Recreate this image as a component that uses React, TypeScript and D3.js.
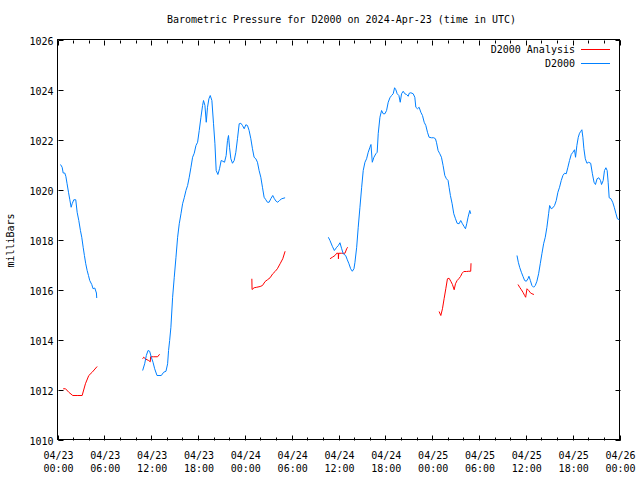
import React from "react";
import * as d3 from "d3";

const TITLE = "Barometric Pressure for D2000 on 2024-Apr-23 (time in UTC)";
const Y_LABEL = "milliBars";
const SERIES_NAMES = ["D2000 Analysis", "D2000"];
const SERIES_COLORS = ["#ff0000", "#0080ff"];
const Y_TICKS = [1010, 1012, 1014, 1016, 1018, 1020, 1022, 1024, 1026];
const START_UTC = Date.UTC(2024, 3, 23, 0, 0);
const SPAN_HOURS = 72;

// [hours since 2024-04-23 00:00 UTC, mb]
const analysisSeg1: [number, number][] = [[0.6,1012.07],[0.9,1012.07],[1.32,1011.93],[1.83,1011.8],[2.39,1011.8],[3.03,1011.8],[3.45,1012.27],[3.88,1012.6],[4.31,1012.73],[4.95,1012.96]];
const analysisSeg2: [number, number][] = [[10.78,1013.27],[10.91,1013.33],[11.21,1013.25],[11.55,1013.2],[11.76,1013.15],[11.8,1013.35],[12.2,1013.35],[12.7,1013.35],[12.95,1013.45]];
const analysisSeg3: [number, number][] = [[24.77,1016.47],[24.8,1016.04],[25.06,1016.11],[25.4,1016.13],[25.83,1016.16],[26.13,1016.2],[26.47,1016.36],[26.77,1016.43],[27.11,1016.51],[27.45,1016.67],[27.75,1016.76],[28.04,1016.87],[28.39,1017.07],[28.73,1017.27],[29.03,1017.57]];
const analysisSeg4: [number, number][] = [[34.78,1017.27],[35.08,1017.33],[35.42,1017.4],[35.64,1017.49],[35.85,1017.49],[35.86,1017.27],[35.9,1017.49],[36.28,1017.49],[36.7,1017.49],[36.92,1017.67],[37.04,1017.73]];
const analysisSeg5: [number, number][] = [[48.76,1015.16],[48.98,1015.0],[49.19,1015.27],[49.4,1015.67],[49.62,1016.07],[49.83,1016.47],[50.04,1016.49],[50.26,1016.37],[50.47,1016.24],[50.69,1016.03],[50.86,1016.27],[51.07,1016.4],[51.28,1016.47],[51.5,1016.56],[51.71,1016.69],[51.92,1016.76],[52.26,1016.76],[52.56,1016.77],[52.81,1016.77],[52.85,1017.09]];
const analysisSeg6: [number, number][] = [[58.87,1016.24],[59.08,1016.13],[59.3,1016.03],[59.5,1015.93],[59.72,1015.8],[59.85,1015.73],[60.02,1016.07],[60.24,1016.0],[60.45,1015.91],[60.65,1015.87],[60.91,1015.84]];

const obsSeg1: [number, number][] = [[0.26,1021.04],[0.47,1020.93],[0.6,1020.7],[0.8,1020.7],[0.94,1020.57],[1.1,1020.27],[1.28,1019.93],[1.45,1019.63],[1.62,1019.33],[1.75,1019.47],[1.96,1019.63],[2.21,1019.63],[2.39,1019.13],[2.6,1018.8],[2.81,1018.4],[2.98,1018.13],[3.16,1017.73],[3.32,1017.4],[3.49,1017.07],[3.67,1016.8],[3.84,1016.6],[4.0,1016.4],[4.26,1016.24],[4.43,1016.07],[4.65,1016.1],[4.86,1015.9],[4.9,1015.7]];
const obsSeg2: [number, number][] = [[10.78,1012.8],[11.04,1013.07],[11.25,1013.4],[11.47,1013.6],[11.68,1013.57],[11.89,1013.33],[12.11,1013.13],[12.32,1012.87],[12.62,1012.6],[13.17,1012.6],[13.47,1012.73],[13.77,1012.77],[13.98,1013.07],[14.1,1013.6],[14.24,1014.0],[14.4,1014.53],[14.62,1015.73],[14.83,1016.53],[15.05,1017.33],[15.26,1018.13],[15.47,1018.67],[15.69,1019.07],[15.9,1019.47],[16.11,1019.71],[16.33,1020.0],[16.54,1020.2],[16.75,1020.53],[16.97,1020.93],[17.18,1021.33],[17.39,1021.49],[17.61,1021.8],[17.82,1021.93],[18.03,1022.4],[18.25,1022.93],[18.46,1023.4],[18.58,1023.6],[18.76,1023.4],[18.93,1022.73],[19.09,1023.33],[19.27,1023.67],[19.44,1023.8],[19.65,1023.6],[19.86,1022.67],[20.04,1021.87],[20.2,1020.8],[20.42,1020.64],[20.63,1020.87],[20.84,1021.2],[21.06,1021.17],[21.27,1021.13],[21.48,1021.4],[21.65,1022.0],[21.78,1022.2],[21.91,1021.73],[22.08,1021.27],[22.29,1021.09],[22.51,1021.2],[22.72,1021.53],[22.93,1022.07],[23.15,1022.67],[23.36,1022.69],[23.57,1022.6],[23.79,1022.47],[24.0,1022.63],[24.21,1022.6],[24.42,1022.4],[24.64,1022.07],[24.85,1021.67],[25.06,1021.33],[25.28,1021.27],[25.49,1021.13],[25.7,1020.8],[25.92,1020.53],[26.13,1020.13],[26.34,1019.73],[26.56,1019.63],[26.77,1019.53],[26.98,1019.53],[27.2,1019.67],[27.45,1019.8],[27.66,1019.67],[27.88,1019.57],[28.09,1019.53],[28.3,1019.6],[28.6,1019.67],[29.03,1019.71]];
const obsSeg3: [number, number][] = [[34.57,1018.13],[34.78,1018.0],[35.08,1017.77],[35.34,1017.6],[35.64,1017.73],[35.85,1017.8],[36.06,1017.91],[36.28,1017.67],[36.48,1017.47],[36.79,1017.4],[37.0,1017.23],[37.21,1017.07],[37.43,1016.87],[37.64,1016.77],[37.85,1016.87],[37.98,1017.13],[38.2,1017.73],[38.4,1018.53],[38.62,1019.33],[38.84,1020.13],[39.04,1020.8],[39.26,1021.13],[39.47,1021.27],[39.68,1021.53],[39.9,1021.73],[40.03,1021.84],[40.2,1021.13],[40.41,1021.33],[40.66,1021.47],[40.83,1021.53],[40.96,1022.27],[41.18,1022.93],[41.39,1023.2],[41.6,1023.07],[41.82,1023.07],[42.03,1023.2],[42.24,1023.53],[42.46,1023.71],[42.67,1023.8],[42.88,1023.87],[43.06,1024.11],[43.22,1024.03],[43.39,1023.87],[43.61,1023.8],[43.78,1023.53],[43.95,1023.87],[44.16,1023.97],[44.37,1023.87],[44.59,1023.84],[44.8,1023.77],[44.93,1023.89],[45.14,1023.91],[45.44,1023.87],[45.65,1023.73],[45.78,1023.33],[45.99,1023.27],[46.2,1023.33],[46.42,1023.13],[46.63,1023.0],[46.85,1022.73],[47.06,1022.6],[47.27,1022.33],[47.48,1022.13],[47.78,1022.11],[48.08,1022.11],[48.29,1022.07],[48.42,1021.93],[48.63,1021.6],[48.85,1021.47],[49.06,1021.33],[49.27,1021.0],[49.49,1020.6],[49.7,1020.47],[49.91,1020.4],[50.04,1020.13],[50.21,1019.8],[50.43,1019.47],[50.64,1019.07],[50.86,1018.87],[51.07,1018.69],[51.32,1018.67],[51.53,1018.8],[51.75,1018.67],[51.96,1018.56],[52.14,1018.47],[52.3,1018.67],[52.47,1018.93],[52.69,1019.2],[52.81,1019.07]];
const obsSeg4: [number, number][] = [[58.74,1017.4],[58.91,1017.13],[59.08,1016.93],[59.3,1016.73],[59.5,1016.57],[59.72,1016.4],[59.93,1016.37],[60.14,1016.47],[60.27,1016.57],[60.45,1016.4],[60.65,1016.2],[60.87,1016.13],[61.08,1016.2],[61.29,1016.37],[61.51,1016.67],[61.72,1017.07],[61.93,1017.47],[62.15,1017.87],[62.36,1018.13],[62.57,1018.53],[62.79,1019.07],[62.92,1019.4],[63.13,1019.27],[63.34,1019.31],[63.55,1019.4],[63.77,1019.6],[63.98,1019.93],[64.19,1020.13],[64.41,1020.4],[64.62,1020.6],[64.83,1020.69],[65.05,1020.67],[65.26,1020.93],[65.47,1021.2],[65.69,1021.44],[65.9,1021.53],[66.11,1021.63],[66.24,1021.33],[66.41,1021.8],[66.59,1022.13],[66.75,1022.29],[66.92,1022.37],[67.05,1022.43],[67.18,1022.13],[67.31,1021.67],[67.49,1021.27],[67.7,1021.09],[67.92,1021.13],[68.18,1021.09],[68.4,1020.67],[68.61,1020.33],[68.79,1020.24],[69.0,1020.47],[69.22,1020.51],[69.44,1020.4],[69.57,1020.24],[69.78,1020.4],[69.95,1020.8],[70.13,1020.91],[70.29,1020.8],[70.42,1020.33],[70.55,1019.71],[70.78,1019.67],[71.0,1019.53],[71.2,1019.33],[71.42,1019.07],[71.6,1018.87],[71.86,1018.83]];

const analysisSegments = [analysisSeg1, analysisSeg2, analysisSeg3, analysisSeg4, analysisSeg5, analysisSeg6];
const obsSegments = [obsSeg1, obsSeg2, obsSeg3, obsSeg4];

const W = 640, H = 480;
const L = 58.5, R = 620.5, T = 40.5, B = 440.5;
const FONT = "'DejaVu Sans Mono', monospace";

export default function App() {
  const t0 = new Date(START_UTC);
  const t1 = new Date(START_UTC + SPAN_HOURS * 3600e3);
  const x = d3.scaleUtc().domain([t0, t1]).range([L, R]);
  const y = d3.scaleLinear().domain([1010, 1026]).range([B, T]);
  const toDate = (h: number) => new Date(START_UTC + h * 3600e3);
  const line = d3.line<[number, number]>().x((d) => x(toDate(d[0]))).y((d) => y(d[1]));
  const majorTicks = d3.utcHour.every(6)!.range(t0, new Date(+t1 + 1));
  const minorTicks = d3.utcHour.every(2)!.range(t0, new Date(+t1 + 1)).filter((d) => d.getUTCHours() % 6 !== 0);
  const fmtDate = d3.utcFormat("%m/%d");
  const fmtTime = d3.utcFormat("%H:%M");

  return (
    <svg width={W} height={H} style={{ position: "absolute", left: 0, top: 0, background: "#fff" }} fontFamily={FONT} fontSize={10}>
      <rect x={0} y={0} width={W} height={H} fill="#fff" />
      <text x={(L + R) / 2 + 2} y={23} textAnchor="middle" fill="#000">{TITLE}</text>
      <text transform={`translate(14,${(T + B) / 2}) rotate(-90)`} textAnchor="middle" fill="#000">{Y_LABEL}</text>
      {Y_TICKS.map((v) => (
        <g key={v}>
          <line x1={L} x2={L + 5} y1={Math.round(y(v)) + 0.5 - 1} y2={Math.round(y(v)) + 0.5 - 1} stroke="#000" />
          <line x1={R - 5} x2={R} y1={Math.round(y(v)) + 0.5 - 1} y2={Math.round(y(v)) + 0.5 - 1} stroke="#000" />
          <text x={L - 5} y={y(v) + 4} textAnchor="end" fill="#000">{v}</text>
        </g>
      ))}
      {majorTicks.map((d, i) => (
        <g key={i}>
          <line x1={Math.round(x(d)) + 0.5 - 1} x2={Math.round(x(d)) + 0.5 - 1} y1={B} y2={B - 5} stroke="#000" />
          <line x1={Math.round(x(d)) + 0.5 - 1} x2={Math.round(x(d)) + 0.5 - 1} y1={T} y2={T + 5} stroke="#000" />
          <text x={x(d)} y={459} textAnchor="middle" fill="#000">{fmtDate(d)}</text>
          <text x={x(d)} y={472} textAnchor="middle" fill="#000">{fmtTime(d)}</text>
        </g>
      ))}
      {minorTicks.map((d, i) => (
        <g key={i}>
          <line x1={Math.round(x(d)) + 0.5 - 1} x2={Math.round(x(d)) + 0.5 - 1} y1={B} y2={B - 3} stroke="#000" />
          <line x1={Math.round(x(d)) + 0.5 - 1} x2={Math.round(x(d)) + 0.5 - 1} y1={T} y2={T + 3} stroke="#000" />
        </g>
      ))}
      <rect x={L - 1} y={T - 1} width={R - L} height={B - T} fill="none" stroke="#000" />
      {analysisSegments.map((s, i) => (
        <path key={"a" + i} d={line(s) || ""} fill="none" stroke={SERIES_COLORS[0]} strokeWidth={1} />
      ))}
      {obsSegments.map((s, i) => (
        <path key={"o" + i} d={line(s) || ""} fill="none" stroke={SERIES_COLORS[1]} strokeWidth={1} />
      ))}
      {SERIES_NAMES.map((n, i) => (
        <g key={n}>
          <text x={575} y={53 + i * 14} textAnchor="end" fill="#000">{n}</text>
          <line x1={581} x2={610} y1={49.5 + i * 14} y2={49.5 + i * 14} stroke={SERIES_COLORS[i]} />
        </g>
      ))}
    </svg>
  );
}
